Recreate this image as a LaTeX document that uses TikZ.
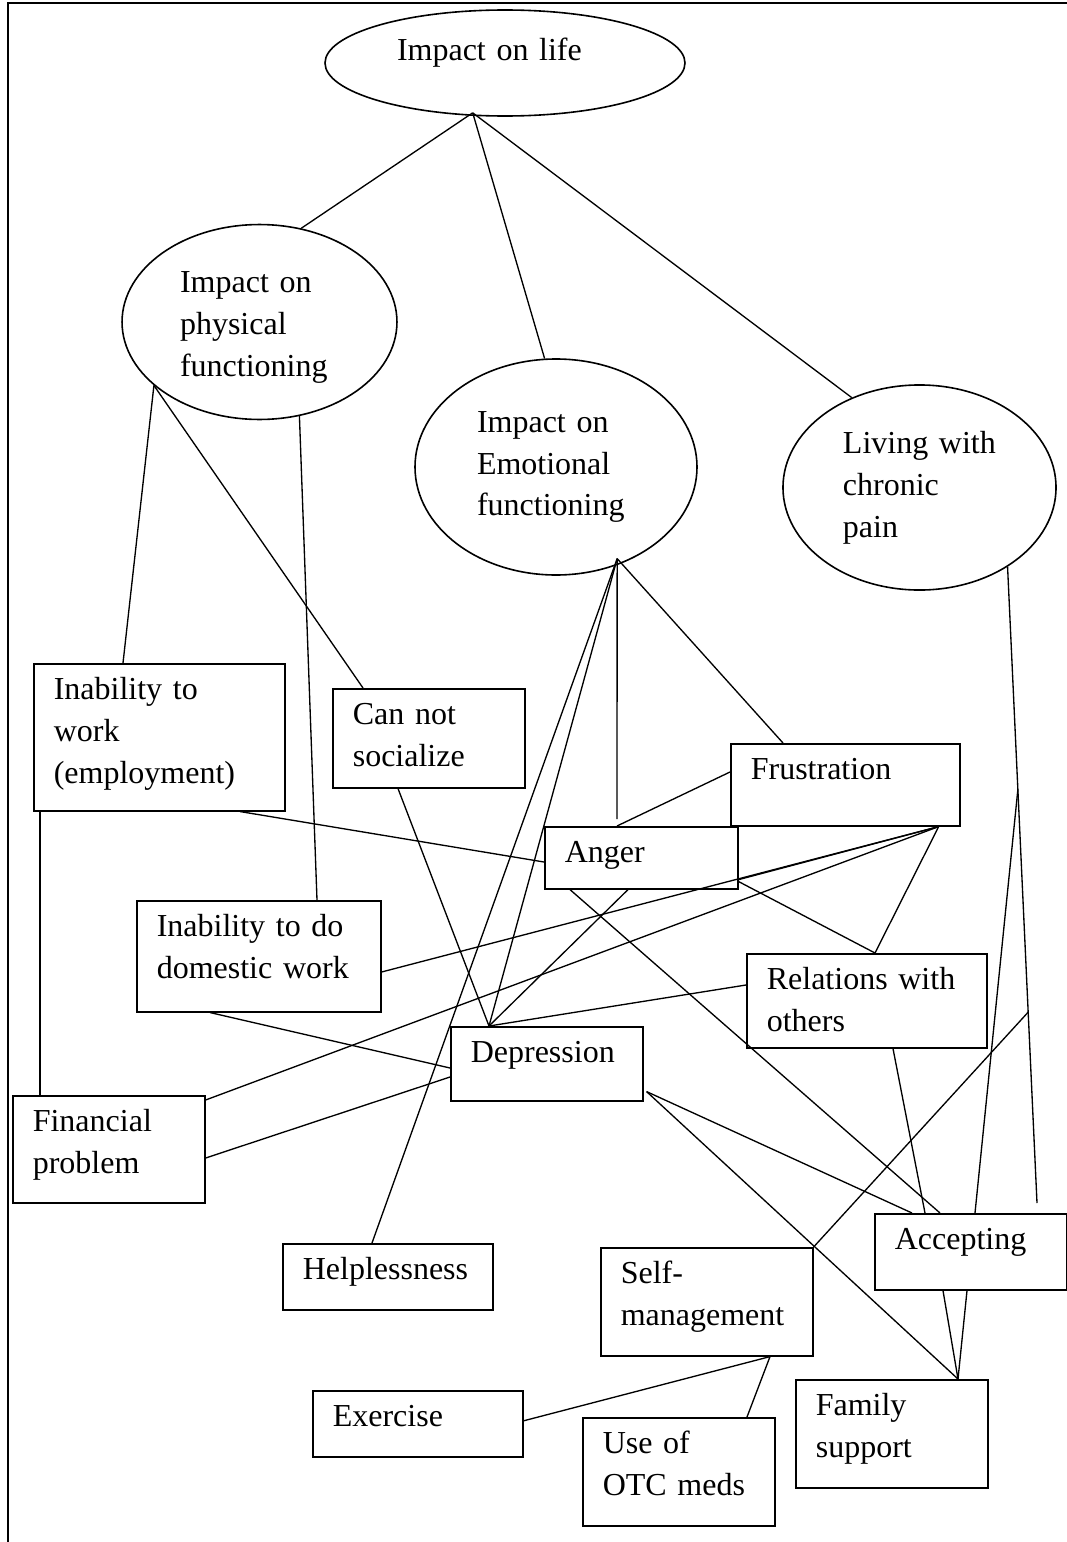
\documentclass[tikz,border=0pt]{standalone}
\usepackage{fontspec}
\setmainfont{Liberation Serif}
\usetikzlibrary{shapes.geometric,calc}

\tikzset{
  topic/.style={ellipse, draw, line width=0.6pt, inner sep=0pt, align=left},
  theme/.style={rectangle, draw, line width=0.6pt, anchor=north west, align=left,
    inner xsep=7.5pt, inner ysep=0pt, text height=13.5pt},
  link/.style={line width=0.5pt}
}

\begin{document}
\begin{tikzpicture}[x=0.375pt, y=-0.375pt, font=\fontsize{12}{15.7}\selectfont]

    \useasboundingbox (0,0) rectangle (1067,1542);

    % 1. Frame (top and left edges only)
    \draw[line width=0.6pt] (8,1542) -- (8,3) -- (1067,3);

    % 2. The four ellipses
    \node[topic, minimum width=135pt, minimum height=39.75pt, text width=81pt, text depth=10pt] (life) at (505,63) {Impact on life};
    \node[topic, minimum width=103.1pt, minimum height=73.1pt, text width=59.6pt, text height=12pt] (phys) at (259.5,322) {Impact on\\physical\\functioning};
    \node[topic, minimum width=105.75pt, minimum height=81pt, text width=59.25pt] (emo) at (556,467) {Impact on\\Emotional\\functioning};
    \node[topic, minimum width=102.4pt, minimum height=76.9pt, text width=57.4pt] (liv) at (919.5,487.5) {Living with\\chronic\\pain};

    % 3. The boxes
    \node[theme, text width=79.1pt, text depth=41.6pt] (work) at (33,663) {Inability to\\work\\(employment)};
    \node[theme, text width=57pt, text depth=23.6pt] (social) at (332,688) {Can not\\socialize};
    \node[theme, text width=70.9pt, text depth=17.25pt] (frus) at (730,743) {Frustration};
    \node[theme, text width=57.4pt, text depth=9.75pt] (anger) at (544,826) {Anger};
    \node[theme, text width=76.5pt, text depth=28.1pt] (dom) at (136,900) {Inability to do\\domestic work};
    \node[theme, text width=75pt, text depth=21.75pt] (rel) at (746,953) {Relations with\\others};
    \node[theme, text width=57pt, text depth=14.25pt] (dep) at (450,1026) {Depression};
    \node[theme, text width=57pt, text depth=26.6pt] (fin) at (12,1095) {Financial\\problem};
    \node[theme, text width=63.75pt, text depth=11.25pt] (help) at (282,1243) {Helplessness};
    \node[theme, text width=57pt, text depth=15pt] (acc) at (874,1213) {Accepting};
    \node[theme, text width=64.5pt, text depth=27pt] (self) at (600,1247) {Self-\\management};
    \node[theme, text width=63.75pt, text depth=11.25pt] (exer) at (312,1390) {Exercise};
    \node[theme, text width=57pt, text depth=27pt] (otc) at (582,1417) {Use of\\OTC meds};
    \node[theme, text width=57pt, text depth=27pt] (fam) at (795,1379) {Family\\support};

    % 4. Links from the ellipses
    \draw[link] ([shift={(2,-3)}]life.237) -- (phys.66);
    \draw[link] ([shift={(2,-3)}]life.237) -- (emo.96);
    \draw[link] ([shift={(2,-3)}]life.237) -- (liv.127);

    \draw[link] (phys.211) -- ([shift={(90,0)}]work.north west);
    \draw[link] (phys.211) -- ([shift={(31,0)}]social.north west);
    \draw[link] (phys.293) -- ([shift={(181,0)}]dom.north west);

    \coordinate (emoB) at ([shift={(-4,-5)}]emo.304);
    \draw[link] (emoB) -- ([shift={(73,-7)}]anger.north west);
    \draw[link] (emoB) -- ([shift={(53,0)}]frus.north west);
    \draw[link] (emoB) -- ([shift={(39,0)}]dep.north west);
    \draw[link] (emoB) -- ([shift={(90,0)}]help.north west);

    \coordinate (accR) at ([shift={(163,-10)}]acc.north west);
    \draw[link] (liv.318) -- (accR);
    \draw[link] ($(liv.318)!0.35!(accR)$) -- ([shift={(101,0)}]acc.north west);
    \draw[link] ($(liv.318)!0.70!(accR)$) -- (self.north east);

    % 5. Links between the boxes
    \draw[link] ([shift={(207,0)}]work.south west) -- ([shift={(0,36)}]anger.north west);
    \draw[link] ([shift={(7,0)}]work.south west) -- ([shift={(28,0)}]fin.north west);
    \draw[link] ([shift={(66,0)}]social.south west) -- ([shift={(39,0)}]dep.north west);

    \draw[link] ([shift={(0,29)}]frus.north west) -- ([shift={(73,0)}]anger.north west);
    \draw[link] ([shift={(-22,0)}]frus.south east) -- ([shift={(0,-10)}]anger.south east);
    \draw[link] ([shift={(-22,0)}]frus.south east) -- ([shift={(0,72)}]dom.north east);
    \draw[link] ([shift={(-22,0)}]frus.south east) -- ([shift={(0,5)}]fin.north east);
    \draw[link] ([shift={(-22,0)}]frus.south east) -- ([shift={(129,0)}]rel.north west);

    \draw[link] ([shift={(0,-8)}]anger.south east) -- ([shift={(129,0)}]rel.north west);
    \draw[link] ([shift={(84,0)}]anger.south west) -- ([shift={(39,0)}]dep.north west);
    \draw[link] ([shift={(26,0)}]anger.south west) -- ([shift={(66,0)}]acc.north west);

    \draw[link] ([shift={(74,0)}]dom.south west) -- ([shift={(0,42)}]dep.north west);
    \draw[link] ([shift={(0,63)}]fin.north east) -- ([shift={(0,51)}]dep.north west);

    \draw[link] ([shift={(0,32)}]rel.north west) -- ([shift={(39,0)}]dep.north west);
    \draw[link] ([shift={(147,0)}]rel.south west) -- ([shift={(51,0)}]acc.north west);

    \draw[link] ([shift={(3,-10)}]dep.south east) -- ([shift={(38,0)}]acc.north west);
    \draw[link] ([shift={(3,-10)}]dep.south east) -- ([shift={(163,0)}]fam.north west);

    \draw[link] ([shift={(69,0)}]acc.south west) -- ([shift={(163,0)}]fam.north west);
    \draw[link] ([shift={(93,0)}]acc.south west) -- ([shift={(163,0)}]fam.north west);

    \draw[link] ([shift={(170,0)}]self.south west) -- ([shift={(0,-3)}]exer.east);
    \draw[link] ([shift={(170,0)}]self.south west) -- ([shift={(165,0)}]otc.north west);

\end{tikzpicture}
\end{document}
